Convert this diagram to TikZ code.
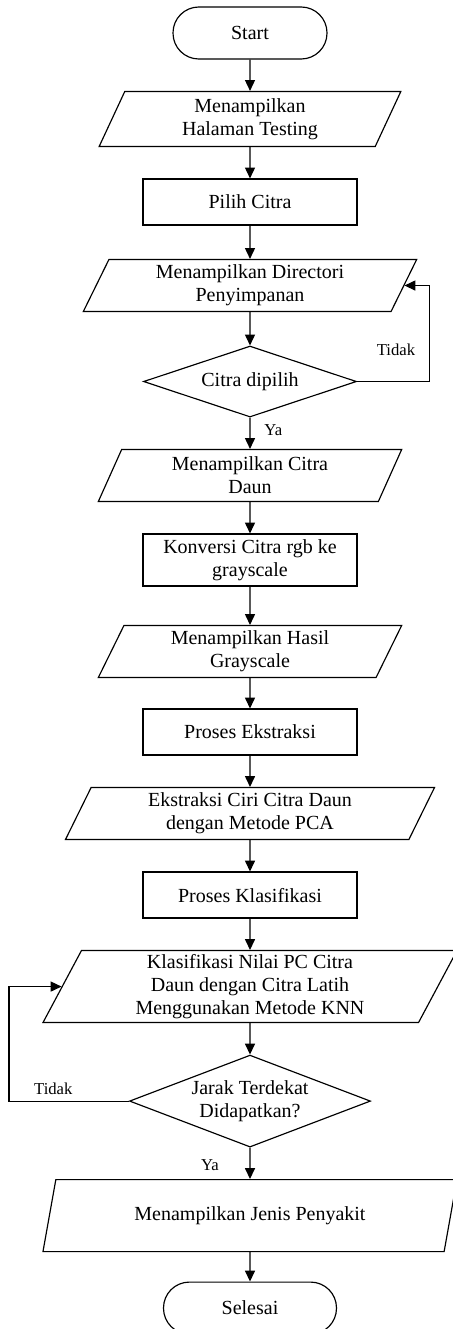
\documentclass[tikz,border=0pt]{standalone}
\usepackage{fontspec}
\setmainfont{Liberation Serif}
\usetikzlibrary{arrows.meta,positioning,shapes.geometric}

\begin{document}
\begin{tikzpicture}[
    node distance=18.8pt,
    term/.style={draw, line width=0.7pt, rounded corners=15.5pt, minimum height=31.2pt,
      inner sep=1.5pt, align=center, font=\fontsize{12}{13.8}\selectfont},
    proc/.style={draw, line width=0.7pt, minimum width=128.4pt, minimum height=27.6pt,
      inner sep=1.5pt, align=center, font=\fontsize{12}{13.8}\selectfont},
    io/.style={draw, line width=0.7pt, trapezium, trapezium left angle=61, trapezium right angle=119,
      trapezium stretches body, minimum height=31.2pt, inner sep=1.5pt, align=center,
      font=\fontsize{12}{13.8}\selectfont},
    dec/.style={draw, line width=0.7pt, diamond, aspect=3, inner sep=0pt, align=center,
      font=\fontsize{12}{13.8}\selectfont},
    lbl/.style={font=\fontsize{10}{12}\selectfont},
    arrow/.style={-{Triangle[length=6.5pt,width=6pt]}, line width=0.7pt}
  ]
    \useasboundingbox (0,0) rectangle (271.2pt,-797.4pt);
    \node[term, minimum width=92.4pt] (start) at (150pt,-19.8pt) {Start};
    \node[io, minimum width=181pt, minimum height=33pt, below=of start] (halaman) {Menampilkan\\Halaman Testing};
    \node[proc, below=of halaman] (pilih) {Pilih Citra};
    \node[io, minimum width=200pt, below=20pt of pilih] (direktori) {Menampilkan Directori\\Penyimpanan};
    \node[dec, minimum width=127.8pt, minimum height=42.6pt, below=20pt of direktori] (dipilih) {Citra dipilih};
    \node[io, minimum width=182pt, below=of dipilih] (daun) {Menampilkan Citra\\Daun};
    \node[proc, minimum height=31.2pt, below=of daun] (konversi) {Konversi Citra rgb ke\\grayscale};
    \node[io, minimum width=182pt, below=23pt of konversi] (hasil) {Menampilkan Hasil\\Grayscale};
    \node[proc, below=18.2pt of hasil] (ekstraksi) {Proses Ekstraksi};
    \node[io, minimum width=221.4pt, below=of ekstraksi] (pca) {Ekstraksi Ciri Citra Daun\\dengan Metode PCA};
    \node[proc, below=of pca] (klasifikasi) {Proses Klasifikasi};
    \node[io, minimum width=248.4pt, minimum height=43.2pt, below=of klasifikasi] (knn) {Klasifikasi Nilai PC Citra\\Daun dengan Citra Latih\\Menggunakan Metode KNN};
    \node[dec, aspect=2.6, minimum width=144.6pt, minimum height=55.2pt, below=of knn] (jarak) {Jarak Terdekat\\Didapatkan?};
    \node[io, minimum width=248.4pt, minimum height=43.2pt, below=of jarak] (penyakit) {Menampilkan Jenis Penyakit};
    \node[term, minimum width=103.8pt, below=17.6pt of penyakit] (selesai) {Selesai};

    \draw[arrow] (start) -- (halaman);
    \draw[arrow] (halaman) -- (pilih);
    \draw[arrow] (pilih) -- (direktori);
    \draw[arrow] (direktori) -- (dipilih);
    \draw[arrow] (dipilih) -- node[lbl, pos=0.4, right, xshift=5pt] {Ya} (daun);
    \draw[arrow] (dipilih.east) -- node[lbl, pos=0.54, above, yshift=12pt] {Tidak} ++(43.2pt,0) |- (direktori.east);
    \draw[arrow] (daun) -- (konversi);
    \draw[arrow] (konversi) -- (hasil);
    \draw[arrow] (hasil) -- (ekstraksi);
    \draw[arrow] (ekstraksi) -- (pca);
    \draw[arrow] (pca) -- (klasifikasi);
    \draw[arrow] (klasifikasi) -- (knn);
    \draw[arrow] (knn) -- (jarak);
    \draw[arrow] (jarak) -- node[lbl, pos=0.56, left, xshift=-15pt] {Ya} (penyakit);
    \draw[arrow] (jarak.west) -- node[lbl, pos=0.63, above] {Tidak} ++(-72pt,0) |- (knn.west);
    \draw[arrow] (penyakit) -- (selesai);
  \end{tikzpicture}
\end{document}
